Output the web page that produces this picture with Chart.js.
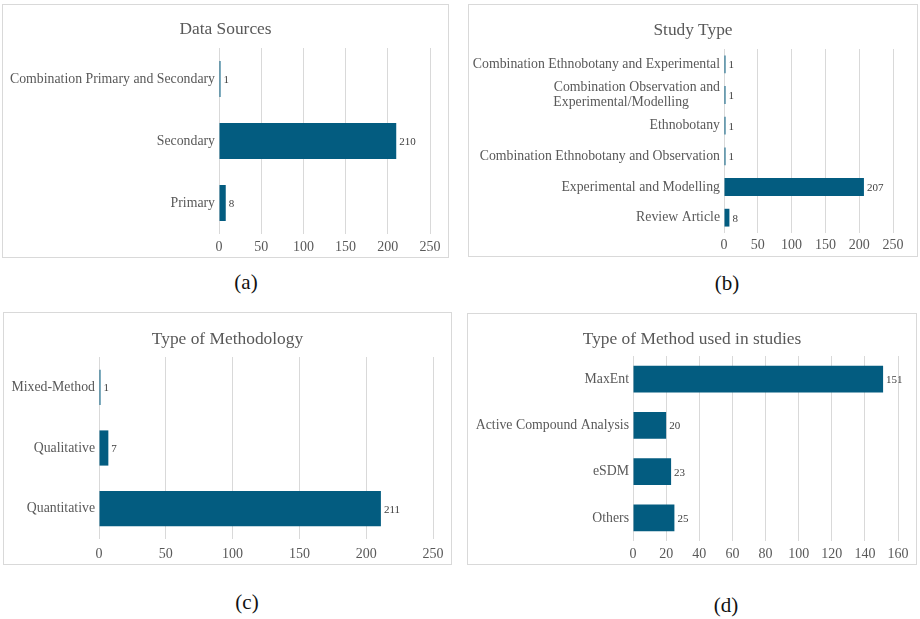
<!DOCTYPE html>
<html>
<head>
<meta charset="utf-8">
<script src="https://cdn.jsdelivr.net/npm/chart.js@4.4.0/dist/chart.umd.min.js"></script>
<style>
  html, body { margin: 0; padding: 0; background: #fff; }
  body { width: 920px; height: 619px; position: relative; overflow: hidden; font-family: "Liberation Serif", serif; }
  .box { position: absolute; border: 1px solid #d9d9d9; box-sizing: border-box; }
  .box canvas { position: absolute; left: 0; top: 0; }
  .box .ttl { position: absolute; left: 0; right: 0; text-align: center; font-size: 17.4px; line-height: 20px; color: #595959; }
  .cap { position: absolute; width: 60px; margin-left: -30px; text-align: center; font-size: 21px; color: #111; line-height: 24px; }
</style>
</head>
<body>
<div class="box" id="boxA"><canvas id="chartA"></canvas><div class="ttl"></div></div>
<div class="box" id="boxB"><canvas id="chartB"></canvas><div class="ttl"></div></div>
<div class="box" id="boxC"><canvas id="chartC"></canvas><div class="ttl"></div></div>
<div class="box" id="boxD"><canvas id="chartD"></canvas><div class="ttl"></div></div>
<div class="cap" style="left:246px; top:270px;">(a)</div>
<div class="cap" style="left:727px; top:271px;">(b)</div>
<div class="cap" style="left:247px; top:590px;">(c)</div>
<div class="cap" style="left:726px; top:593px;">(d)</div>

<script>
// (a) Data Sources
const sourceLabels = ['Combination Primary and Secondary', 'Secondary', 'Primary'];
const sourceCounts = [1, 210, 8];

// (b) Study Type
const studyLabels = [
  'Combination Ethnobotany and Experimental',
  ['Combination Observation and', 'Experimental/Modelling\u00a0\u00a0\u00a0\u00a0\u00a0\u00a0\u00a0\u00a0\u00a0'],
  'Ethnobotany',
  'Combination Ethnobotany and Observation',
  'Experimental and Modelling',
  'Review Article'
];
const studyCounts = [1, 1, 1, 1, 207, 8];

// (c) Type of Methodology
const methodologyLabels = ['Mixed-Method', 'Qualitative', 'Quantitative'];
const methodologyCounts = [1, 7, 211];

// (d) Type of Method used in studies
const methodLabels = ['MaxEnt', 'Active Compound Analysis', 'eSDM', 'Others'];
const methodCounts = [151, 20, 23, 25];

const barColor = '#035c80';
const textGrey = '#595959';
const gridGrey = '#d9d9d9';
const serif = '"Liberation Serif", "Times New Roman", serif';

// value written just past the end of each bar
const valueLabels = {
  id: 'valueLabels',
  afterDatasetsDraw(chart) {
    const ctx = chart.ctx;
    const meta = chart.getDatasetMeta(0);
    const values = chart.data.datasets[0].data;
    ctx.save();
    ctx.font = '11px ' + serif;
    ctx.fillStyle = '#404040';
    ctx.textBaseline = 'middle';
    ctx.textAlign = 'left';
    meta.data.forEach((bar, i) => {
      ctx.fillText(String(values[i]), bar.x + 3, bar.y + 1);
    });
    ctx.restore();
  }
};

function makeChart(boxId, canvasId, layout, title, labels, values, maxX, stepX) {
  const box = document.getElementById(boxId);
  box.style.left = layout.x + 'px';
  box.style.top = layout.y + 'px';
  box.style.width = layout.w + 'px';
  box.style.height = layout.h + 'px';

  const ttl = box.querySelector('.ttl');
  ttl.textContent = title;
  ttl.style.top = (layout.titleY - 10) + 'px';

  const canvas = document.getElementById(canvasId);
  canvas.width = layout.w;
  canvas.height = layout.h;
  canvas.style.width = layout.w + 'px';
  canvas.style.height = layout.h + 'px';

  return new Chart(canvas.getContext('2d'), {
    type: 'bar',
    data: {
      labels: labels,
      datasets: [{
        data: values,
        backgroundColor: barColor,
        borderWidth: 0,
        minBarLength: 1.5,
        barPercentage: 0.58,
        categoryPercentage: 1
      }]
    },
    plugins: [valueLabels],
    options: {
      indexAxis: 'y',
      responsive: false,
      animation: false,
      layout: { padding: { left: 0, right: layout.marginRight, top: layout.plotTop, bottom: 0 } },
      plugins: {
        legend: { display: false },
        tooltip: { enabled: false },
        title: { display: false }
      },
      scales: {
        x: {
          min: 0,
          max: maxX,
          ticks: {
            stepSize: stepX,
            color: textGrey,
            padding: layout.tickPad,
            font: { family: serif, size: 14 }
          },
          grid: { color: gridGrey, drawTicks: false, lineWidth: 1 },
          border: { display: false },
          afterFit: function (scale) { scale.height = layout.axisH; }
        },
        y: {
          ticks: {
            autoSkip: false,
            color: textGrey,
            padding: 4,
            font: { family: serif, size: 13.8, lineHeight: 1.08 }
          },
          grid: { display: false, drawTicks: false },
          border: { display: false },
          afterFit: function (scale) { scale.width = layout.plotLeft; }
        }
      }
    }
  });
}

makeChart('boxA', 'chartA',
  { x: 2, y: 4, w: 447, h: 254, plotLeft: 216, marginRight: 20, plotTop: 43, titleY: 23, axisH: 25, tickPad: 5 },
  'Data Sources', sourceLabels, sourceCounts, 250, 50);

makeChart('boxB', 'chartB',
  { x: 468, y: 4, w: 450, h: 253, plotLeft: 255, marginRight: 26, plotTop: 44, titleY: 24, axisH: 25, tickPad: 4 },
  'Study Type', studyLabels, studyCounts, 250, 50);

makeChart('boxC', 'chartC',
  { x: 3, y: 312, w: 449, h: 253, plotLeft: 95, marginRight: 20, plotTop: 44, titleY: 25, axisH: 27, tickPad: 7 },
  'Type of Methodology', methodologyLabels, methodologyCounts, 250, 50);

makeChart('boxD', 'chartD',
  { x: 467, y: 313, w: 450, h: 252, plotLeft: 165, marginRight: 20, plotTop: 42, titleY: 24, axisH: 25, tickPad: 5 },
  'Type of Method used in studies', methodLabels, methodCounts, 160, 20);
</script>
</body>
</html>
